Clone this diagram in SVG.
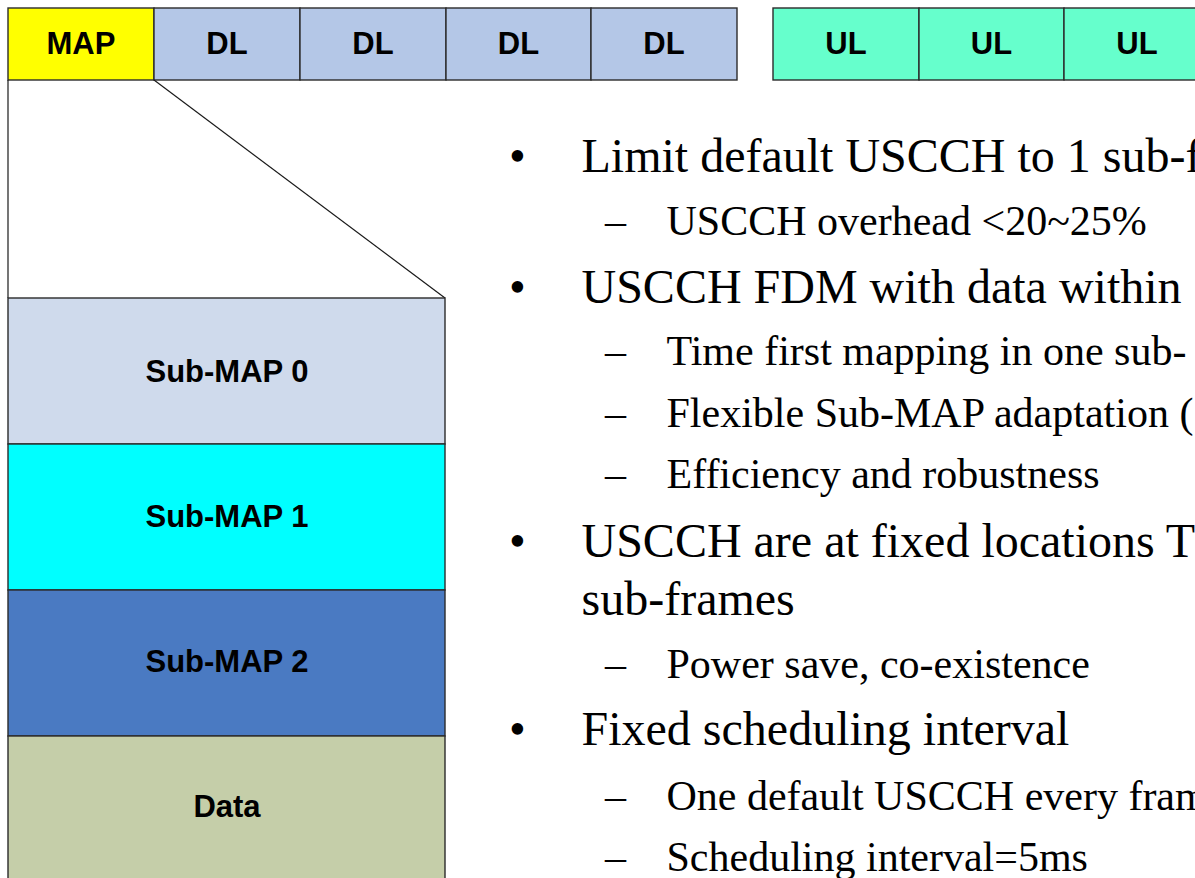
<svg xmlns="http://www.w3.org/2000/svg" width="1195" height="878" viewBox="0 0 1195 878">
<style>
  .box { stroke: #2b2b2b; stroke-width: 1.4; }
  .lbl { font-family: "Liberation Sans", Arial, sans-serif; font-weight: bold; font-size: 31px; fill: #000; text-anchor: middle; }
  .main { font-family: "Liberation Serif", "Times New Roman", serif; font-size: 48px; fill: #000; }
  .sub { font-family: "Liberation Serif", "Times New Roman", serif; font-size: 42px; fill: #000; }
  .conn { stroke: #1a1a1a; stroke-width: 1.2; fill: none; }
  .map { fill: #FFFF00; }
  .dl { fill: #B4C7E7; }
  .ul { fill: #66FFCC; }
</style>
<rect width="1195" height="878" fill="#ffffff"/>

<g id="frame-map"><rect class="box map" x="8" y="8" width="146" height="72"/><text class="lbl" x="81" y="54">MAP</text></g>
<g id="frame-dl1"><rect class="box dl" x="154" y="8" width="146" height="72"/><text class="lbl" x="227" y="54">DL</text></g>
<g id="frame-dl2"><rect class="box dl" x="300" y="8" width="146" height="72"/><text class="lbl" x="373" y="54">DL</text></g>
<g id="frame-dl3"><rect class="box dl" x="446" y="8" width="145" height="72"/><text class="lbl" x="518.5" y="54">DL</text></g>
<g id="frame-dl4"><rect class="box dl" x="591" y="8" width="146" height="72"/><text class="lbl" x="664" y="54">DL</text></g>
<g id="frame-ul1"><rect class="box ul" x="773" y="8" width="146" height="72"/><text class="lbl" x="846" y="54">UL</text></g>
<g id="frame-ul2"><rect class="box ul" x="919" y="8" width="145" height="72"/><text class="lbl" x="991.5" y="54">UL</text></g>
<g id="frame-ul3"><rect class="box ul" x="1064" y="8" width="150" height="72"/><text class="lbl" x="1137" y="54">UL</text></g>

<g id="connectors">
  <line class="conn" x1="8" y1="80" x2="8" y2="298"/>
  <line class="conn" x1="154" y1="80" x2="445" y2="298"/>
</g>

<g id="submap0"><rect class="box" fill="#CFDAEC" x="8" y="298" width="437" height="146"/><text class="lbl" x="227" y="381.5">Sub-MAP 0</text></g>
<g id="submap1"><rect class="box" fill="#00FFFF" x="8" y="444" width="437" height="146"/><text class="lbl" x="227" y="527">Sub-MAP 1</text></g>
<g id="submap2"><rect class="box" fill="#4A7AC2" x="8" y="590" width="437" height="146"/><text class="lbl" x="227" y="672">Sub-MAP 2</text></g>
<g id="data"><rect class="box" fill="#C5CEA9" x="8" y="736" width="437" height="160"/><text class="lbl" x="227" y="817">Data</text></g>

<g id="bullets">
  <text class="main" x="509" y="172">•</text>
  <text class="main" x="581.5" y="172">Limit default USCCH to 1 sub-f</text>
  <text class="sub" x="605" y="235">–</text>
  <text class="sub" x="666.5" y="235">USCCH overhead &lt;20~25%</text>
  <text class="main" x="509" y="303">•</text>
  <text class="main" x="581.5" y="303">USCCH FDM with data within</text>
  <text class="sub" x="605" y="365">–</text>
  <text class="sub" x="666.5" y="365">Time first mapping in one sub-</text>
  <text class="sub" x="605" y="427">–</text>
  <text class="sub" x="666.5" y="427">Flexible Sub-MAP adaptation (</text>
  <text class="sub" x="605" y="488">–</text>
  <text class="sub" x="666.5" y="488">Efficiency and robustness</text>
  <text class="main" x="509" y="557">•</text>
  <text class="main" x="581.5" y="557">USCCH are at fixed locations T</text>
  <text class="main" x="581.5" y="615">sub-frames</text>
  <text class="sub" x="605" y="678">–</text>
  <text class="sub" x="666.5" y="678">Power save, co-existence</text>
  <text class="main" x="509" y="745">•</text>
  <text class="main" x="581.5" y="745">Fixed scheduling interval</text>
  <text class="sub" x="605" y="810">–</text>
  <text class="sub" x="666.5" y="810">One default USCCH every fram</text>
  <text class="sub" x="605" y="871">–</text>
  <text class="sub" x="666.5" y="871">Scheduling interval=5ms</text>
</g>
</svg>
